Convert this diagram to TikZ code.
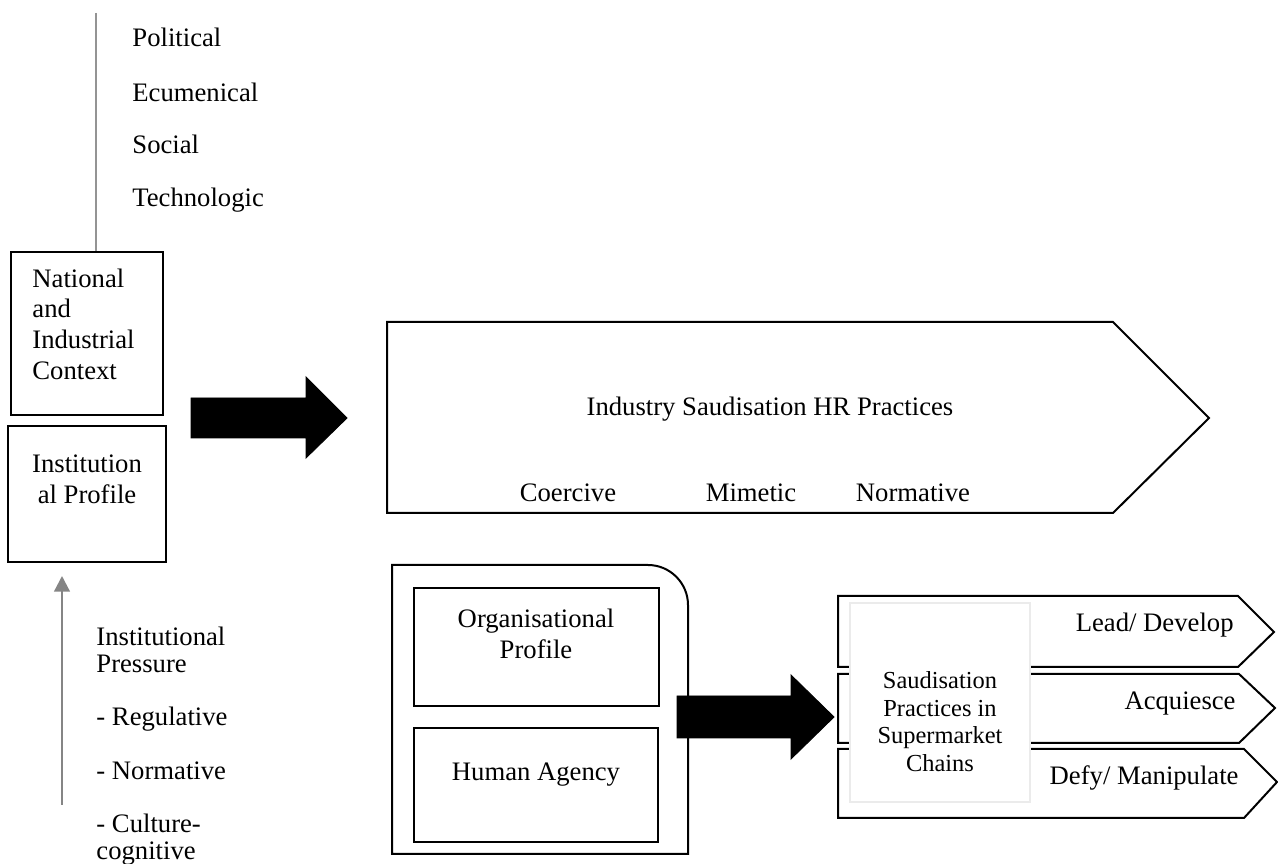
\documentclass[tikz,border=0pt]{standalone}
\usepackage{fontspec}
\setmainfont{Liberation Serif}
\usetikzlibrary{fit,arrows.meta}
\begin{document}
\begin{tikzpicture}[x=0.45pt,y=-0.45pt,
  font=\fontsize{12}{13.8}\selectfont,
  box/.style={draw,line width=0.9pt,inner sep=0pt},
  txt/.style={inner sep=0pt,anchor=base west},
  ctxt/.style={inner sep=0pt,anchor=base},
  rtxt/.style={inner sep=0pt,anchor=base east},
  smalltxt/.style={inner sep=0pt,anchor=base,font=\fontsize{11}{12.5}\selectfont},
  blockarrow/.style={fill=black},
  greyline/.style={draw=black!42,line width=1.1pt},
  greyarrow/.style={draw=black!48,line width=1pt,-{Triangle[length=7pt,width=7pt,fill=black!48]}}]
\useasboundingbox (0,0) rectangle (1278,864);
% ---------- left column ----------
\node[box,fit={(11,252) (163,415)}] (nat) {};
\node[box,fit={(8,426) (166,562)}] (inst) {};
\node[txt] (n1) at (32,288) {National};
\node[txt] (n2) at (32,318) {and};
\node[txt] (n3) at (32,349) {Industrial};
\node[txt] (n4) at (32,380) {Context};
\node[ctxt] (i1) at (87,473) {Institution};
\node[ctxt] (i2) at (87,504) {al Profile};
\coordinate (ptop) at (96,13);
\draw[greyline] (ptop) -- (ptop |- nat.north);
\node[txt] (p1) at (132,47) {Political};
\node[txt] (p2) at (132,102) {Ecumenical};
\node[txt] (p3) at (132,154) {Social};
\node[txt] (p4) at (132,207) {Technologic};
\coordinate (pbot) at (62,805);
\coordinate (phead) at (62,576);
\draw[greyarrow] (pbot) -- (phead);
\node[txt] (q1) at (96,646) {Institutional};
\node[txt] (q2) at (96,673) {Pressure};
\node[txt] (q3) at (96,726) {- Regulative};
\node[txt] (q4) at (96,780) {- Normative};
\node[txt] (q5) at (96,833) {- Culture-};
\node[txt] (q6) at (96,860) {cognitive};
% ---------- industry pentagon ----------
\draw[box] (387,322) -- (1113,322) -- (1209,418) -- (1113,513) -- (387,513) -- cycle;
\node[ctxt] (ind) at (770,416) {Industry Saudisation HR Practices};
\node[ctxt] (coe) at (568,502) {Coercive};
\node[ctxt] (mim) at (751,502) {Mimetic};
\node[ctxt] (nor) at (913,502) {Normative};
\draw[blockarrow] (191,398) -- (306,398) -- (306,377) -- (347,418) -- (306,458) -- (306,438) -- (191,438) -- cycle;
% ---------- organisation container ----------
\draw[box] (392,854) -- (392,565) -- (648,565) .. controls (670,565) and (688,583) .. (688,605) -- (688,854) -- cycle;
\node[box,fit={(414,588) (659,706)}] (org) {};
\node[box,fit={(414,728) (658,842)}] (hum) {};
\node[ctxt] (o1) at (536,628) {Organisational};
\node[ctxt] (o2) at (536,659) {Profile};
\node[ctxt] (h1) at (536,781) {Human Agency};
\draw[blockarrow] (677,696) -- (791,696) -- (791,675) -- (834,717) -- (791,759) -- (791,738) -- (677,738) -- cycle;
% ---------- chevrons ----------
\draw[box] (838,596) -- (1238,596) -- (1274,632) -- (1238,667) -- (838,667) -- cycle;
\draw[box] (838,674) -- (1239,674) -- (1275,708) -- (1239,743) -- (838,743) -- cycle;
\draw[box] (838,749) -- (1244,749) -- (1277,782) -- (1244,818) -- (838,818) -- cycle;
\node[rtxt] (c1) at (1234,632) {Lead/ Develop};
\node[rtxt] (c2) at (1236,710) {Acquiesce};
\node[rtxt] (c3) at (1239,785) {Defy/ Manipulate};
\node[draw=black!8,fill=white,line width=0.9pt,inner sep=0pt,fit={(850,603) (1030,802)}] (sp) {};
\node[smalltxt] (s1) at (940,689) {Saudisation};
\node[smalltxt] (s2) at (940,717) {Practices in};
\node[smalltxt] (s3) at (940,744) {Supermarket};
\node[smalltxt] (s4) at (940,772) {Chains};
\end{tikzpicture}
\end{document}
